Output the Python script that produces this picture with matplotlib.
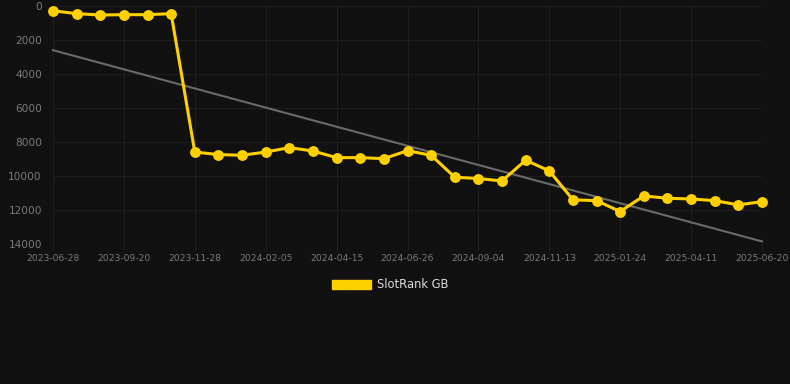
import matplotlib
matplotlib.use("Agg")
import matplotlib.pyplot as plt
from matplotlib.patches import Patch

dates = [
    "2023-06-28", "2023-07-26", "2023-08-23", "2023-09-20", "2023-10-13", "2023-11-05",
    "2023-11-28", "2023-12-21", "2024-01-13", "2024-02-05", "2024-02-28", "2024-03-23",
    "2024-04-15", "2024-05-09", "2024-06-02", "2024-06-26", "2024-07-19", "2024-08-11",
    "2024-09-04", "2024-09-27", "2024-10-20", "2024-11-13", "2024-12-07", "2024-12-31",
    "2025-01-24", "2025-02-18", "2025-03-16", "2025-04-11", "2025-05-04", "2025-05-27",
    "2025-06-20",
]
ranks = [
    280, 450, 530, 510, 510, 450,
    8590, 8740, 8780, 8590, 8330, 8530,
    8920, 8920, 8980, 8510, 8780, 10070,
    10150, 10290, 9070, 9700, 11400, 11450,
    12090, 11170, 11310, 11350, 11450, 11700,
    11510,
]
trend = [2600, 13850]
series_name = "SlotRank GB"

W, H = 790, 384
fig = plt.figure(figsize=(W / 100, H / 100), dpi=100)
fig.patch.set_facecolor("#111111")
ax = fig.add_axes([53 / W, 1 - 244 / H, (762 - 53) / W, (244 - 6) / H])
ax.set_facecolor("#111111")

x = list(range(len(dates)))
ax.plot([x[0], x[-1]], trend, color="#6a6a6a", lw=1.5, zorder=2, clip_on=False)
ax.plot(x, ranks, color="#FFD000", lw=2.2, marker="o", ms=6.8,
        markerfacecolor="#FFD000", markeredgecolor="#FFD000", zorder=3, clip_on=False)

ax.set_xlim(0, len(dates) - 1)
ax.set_ylim(14000, 0)
ax.set_yticks(range(0, 14001, 2000))
ax.set_yticklabels([str(v) for v in range(0, 14001, 2000)])
ticks = x[::3]
ax.set_xticks(ticks)
ax.set_xticklabels([dates[i] for i in ticks])

ax.grid(True, color="#1e1e1e", lw=0.8)
for s in ax.spines.values():
    s.set_visible(False)
ax.tick_params(axis="y", length=0, colors="#7a7a7a", labelsize=7.6, pad=8)
ax.tick_params(axis="x", length=4, color="#222222", labelcolor="#7a7a7a", labelsize=6.6, pad=3)

h = Patch(facecolor="#FFD000", edgecolor="#FFD000")
leg = fig.legend([h], [series_name], loc="center", bbox_to_anchor=(390 / W, 1 - 285 / H),
                 frameon=False, fontsize=8.3, handlelength=3.4, handleheight=0.9,
                 handletextpad=0.5, labelcolor="#dddddd")

fig.savefig("out.png", dpi=100, facecolor=fig.get_facecolor())
